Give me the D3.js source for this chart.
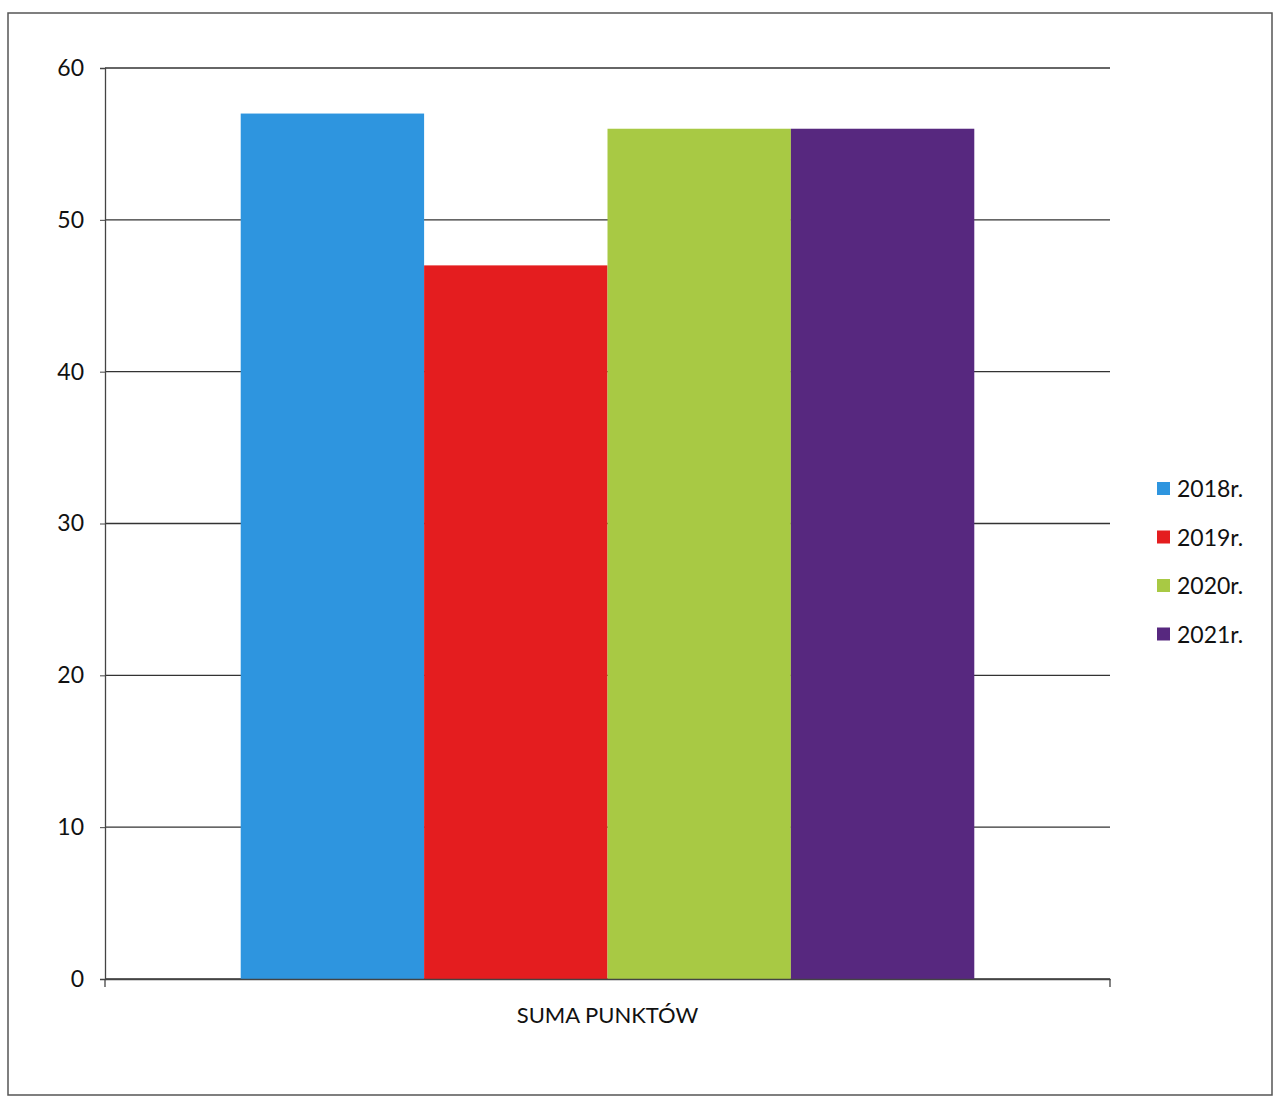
<!DOCTYPE html>
<html>
<head>
<meta charset="utf-8">
<script src="https://cdn.jsdelivr.net/npm/d3@7"></script>
<style>
  body { margin: 0; background: #fff; }
  text { font-family: Lato, "Open Sans", sans-serif; fill: #111; }
</style>
</head>
<body>
<svg id="chart"></svg>
<script>
var categories = ["SUMA PUNKTÓW"]
var seriesNames = ["2018r.", "2019r.", "2020r.", "2021r."]
var seriesValues = [57, 47, 56, 56]
var seriesColors = ["#2e95df", "#e41d1f", "#a8c944", "#57287f"]
var yTicks = [0, 10, 20, 30, 40, 50, 60]

var W = 1278, H = 1101
var margin = {top: 68, right: 168, bottom: 122, left: 105}
var width = W - margin.left - margin.right
var height = H - margin.top - margin.bottom

var svg = d3.select("#chart").attr("width", W).attr("height", H)

// outer frame
svg.append("rect")
   .attr("x", 8).attr("y", 13)
   .attr("width", 1264).attr("height", 1082)
   .attr("fill", "none")
   .attr("stroke", "#555")
   .attr("stroke-width", 1.5)

var g = svg.append("g").attr("transform", `translate(${margin.left},${margin.top})`)

var x0 = d3.scaleBand().domain(categories).range([0, width]).paddingInner(0).paddingOuter(0.185)
var x1 = d3.scaleBand().domain(seriesNames).range([0, x0.bandwidth()]).padding(0)
var y = d3.scaleLinear().domain([0, 60]).range([height, 0])

// gridlines
g.append("g")
 .selectAll("line")
 .data(yTicks)
 .join("line")
 .attr("x1", 0).attr("x2", width)
 .attr("y1", d => y(d)).attr("y2", d => y(d))
 .attr("stroke", "#333")
 .attr("stroke-width", 1.3)

// y axis
var yAxis = g.append("g")
   .call(d3.axisLeft(y).tickValues(yTicks).tickSize(5).tickPadding(16))
yAxis.select(".domain").attr("stroke", "#444").attr("stroke-width", 1.3)
yAxis.selectAll(".tick line").attr("stroke", "#444")
yAxis.selectAll("text").attr("font-size", 23).attr("fill", "#111")

// bars
g.append("g")
 .selectAll("rect")
 .data(seriesNames)
 .join("rect")
 .attr("x", (d) => x0(categories[0]) + x1(d))
 .attr("width", x1.bandwidth())
 .attr("y", (d, i) => y(seriesValues[i]))
 .attr("height", (d, i) => height - y(seriesValues[i]))
 .attr("fill", (d, i) => seriesColors[i])

// x axis
var xAxis = g.append("g")
   .attr("transform", `translate(0,${height})`)
   .call(d3.axisBottom(x0).tickSize(0).tickPadding(28))
xAxis.select(".domain").attr("stroke", "#444").attr("stroke-width", 1.3)
xAxis.selectAll("text").attr("font-size", 22).attr("fill", "#111")
// end ticks on the category axis
g.append("g")
 .selectAll("line")
 .data([0, width])
 .join("line")
 .attr("x1", d => d).attr("x2", d => d)
 .attr("y1", height).attr("y2", height + 8)
 .attr("stroke", "#444").attr("stroke-width", 1.3)

// legend
var legend = svg.append("g").attr("transform", "translate(1157,489)")
var items = legend.selectAll("g")
   .data(seriesNames)
   .join("g")
   .attr("transform", (d, i) => `translate(0,${i * 48.5})`)
items.append("rect")
     .attr("x", 0).attr("y", -7)
     .attr("width", 13).attr("height", 13)
     .attr("fill", (d, i) => seriesColors[i])
items.append("text")
     .attr("x", 20).attr("y", 0)
     .attr("dy", "0.35em")
     .attr("font-size", 23)
     .text(d => d)
</script>
</body>
</html>
